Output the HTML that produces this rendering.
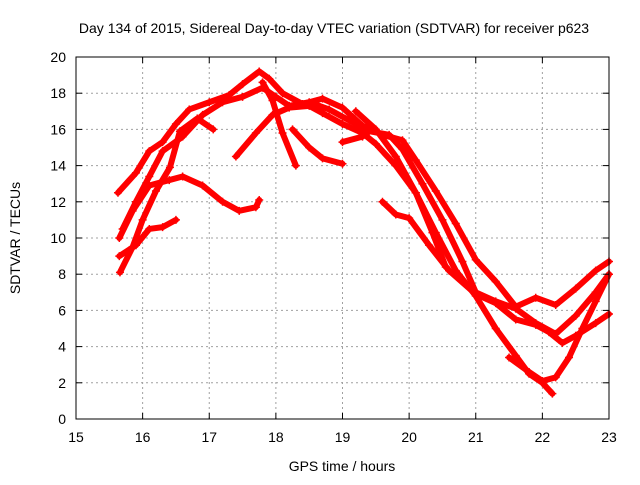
<!DOCTYPE html>
<html><head><meta charset="utf-8"><style>
body{margin:0;background:#fff;}
svg text{font-family:"Liberation Sans",sans-serif;font-size:14px;fill:#000;}
</style></head><body>
<svg id="chart" width="640" height="480" xmlns="http://www.w3.org/2000/svg">
<rect width="640" height="480" fill="#fff"/>
<text x="334" y="33" text-anchor="middle">Day 134 of 2015, Sidereal Day-to-day VTEC variation (SDTVAR) for receiver p623</text>
<text x="342" y="471" text-anchor="middle">GPS time / hours</text>
<text transform="translate(20,238) rotate(-90)" text-anchor="middle">SDTVAR / TECUs</text>
<g id="grid"></g><g id="series"></g><g id="axes"></g>
</svg>
<script>
const xTicks=[15,16,17,18,19,20,21,22,23];
const yTicks=[0,2,4,6,8,10,12,14,16,18,20];
const track1=[[15.63,12.5],[15.9,13.6],[16.1,14.8],[16.3,15.3],[16.5,16.3],[16.7,17.1],[17.0,17.5],[17.3,17.9],[17.5,18.5],[17.75,19.2],[17.9,18.8],[18.1,18.0],[18.4,17.4],[18.7,17.7],[19.0,17.2],[19.3,16.2],[19.6,15.7],[19.9,15.4],[20.1,14.3],[20.4,12.6],[20.7,10.8],[21.0,8.8],[21.3,7.6],[21.6,6.2],[21.9,6.7],[22.2,6.3],[22.5,7.2],[22.8,8.2],[23.0,8.7]];
const track2=[[15.65,10.0],[15.85,11.5],[16.1,12.9],[16.4,13.2],[16.6,13.4],[16.9,12.9],[17.2,12.0],[17.45,11.5],[17.7,11.7],[17.75,12.1]];
const track3=[[15.65,9.0],[15.9,9.6],[16.1,10.5],[16.3,10.6],[16.5,11.0]];
const track4=[[15.66,8.1],[15.85,9.5],[16.0,11.0],[16.2,12.6],[16.41,13.9],[16.56,15.9],[16.82,16.6],[17.06,16.0]];
const track5=[[15.7,10.5],[15.9,12.0],[16.1,13.4],[16.3,14.8],[16.6,15.6],[16.9,16.8],[17.2,17.5],[17.5,17.8],[17.8,18.3],[18.0,17.8],[18.2,17.3],[18.5,17.5],[18.8,17.1],[19.1,16.5],[19.4,15.9],[19.7,15.7],[19.9,14.9],[20.2,13.0],[20.5,11.0],[20.8,8.7],[21.0,7.0],[21.3,6.5],[21.6,6.1],[21.9,5.3],[22.2,4.7],[22.5,5.7],[22.8,7.0],[23.0,8.0]];
const track6=[[17.8,18.6],[17.95,17.6],[18.1,15.8],[18.3,14.0]];
const track7=[[17.4,14.5],[17.7,15.8],[17.95,16.8],[18.2,17.2],[18.5,17.3],[18.7,16.9],[19.0,16.3],[19.3,15.8],[19.5,15.2],[19.8,14.0],[20.1,12.5],[20.35,10.3],[20.55,8.4]];
const track8=[[18.25,16.0],[18.5,15.0],[18.7,14.4],[19.0,14.1]];
const track9=[[19.0,15.3],[19.3,15.6]];
const track10=[[19.6,12.0],[19.8,11.3],[20.0,11.1],[20.3,9.6],[20.6,8.2],[21.0,6.9],[21.3,6.4],[21.6,5.5],[21.9,5.2],[22.1,4.8],[22.3,4.2],[22.5,4.6],[22.8,5.3],[23.0,5.8]];
const track11=[[19.2,17.0],[19.5,16.0],[19.8,14.5],[20.1,12.5],[20.4,10.3],[20.7,8.2],[21.0,6.8],[21.3,5.0],[21.6,3.5],[21.8,2.5],[22.0,2.0],[22.15,1.4]];
const track12=[[21.5,3.4],[21.8,2.6],[22.0,2.1],[22.2,2.3],[22.4,3.4],[22.6,5.0],[22.8,6.5],[23.0,8.0]];
const tracks=[track1,track2,track3,track4,track5,track6,track7,track8,track9,track10,track11,track12];
const L=76,R=609,T=57,B=419;
const xs=v=>L+(v-15)/8*(R-L);
const ys=v=>B-v/20*(B-T);
const NS="http://www.w3.org/2000/svg";
function mk(tag,attrs,parent){const e=document.createElementNS(NS,tag);for(const k in attrs)e.setAttribute(k,attrs[k]);parent.appendChild(e);return e;}
const grid=document.getElementById('grid'),axes=document.getElementById('axes'),ser=document.getElementById('series');
xTicks.forEach(t=>{const x=xs(t);
 if(t>15&&t<23){const g=mk('line',{x1:x,x2:x,y1:T,y2:B,stroke:'#a0a0a0','stroke-dasharray':'2,3'},grid);
 
 }
 mk('line',{x1:x,x2:x,y1:B,y2:B-6,stroke:'#000'},axes);mk('line',{x1:x,x2:x,y1:T,y2:T+6,stroke:'#000'},axes);
 const lb=mk('text',{x:x,y:B+23,'text-anchor':'middle'},axes);lb.textContent=t;
 
 });
yTicks.forEach(t=>{const y=ys(t);
 if(t>0&&t<20){const g=mk('line',{x1:L,x2:R,y1:y,y2:y,stroke:'#a0a0a0','stroke-dasharray':'2,3'},grid);
 
 }
 mk('line',{x1:L,x2:L+6,y1:y,y2:y,stroke:'#000'},axes);mk('line',{x1:R,x2:R-6,y1:y,y2:y,stroke:'#000'},axes);
 const lb=mk('text',{x:L-10,y:y+5,'text-anchor':'end'},axes);lb.textContent=t;
 
 });
const fr=mk('rect',{x:L,y:T,width:R-L,height:B-T,fill:'none',stroke:'#000'},axes);


tracks.forEach((tr,i)=>{
 const pl=mk('polyline',{points:tr.map(p=>xs(p[0])+','+ys(p[1])).join(' '),fill:'none',stroke:'#ff0000','stroke-width':6,'stroke-linejoin':'round','stroke-linecap':'round'},ser);
 
 
 tr.forEach(p=>{const x=xs(p[0]),y=ys(p[1]);
  const m=mk('path',{d:`M${x-4},${y}H${x+4}M${x},${y-4}V${y+4}`,stroke:'#ff0000','stroke-width':1.5},ser);
  
  });
});
</script>
</body></html>
